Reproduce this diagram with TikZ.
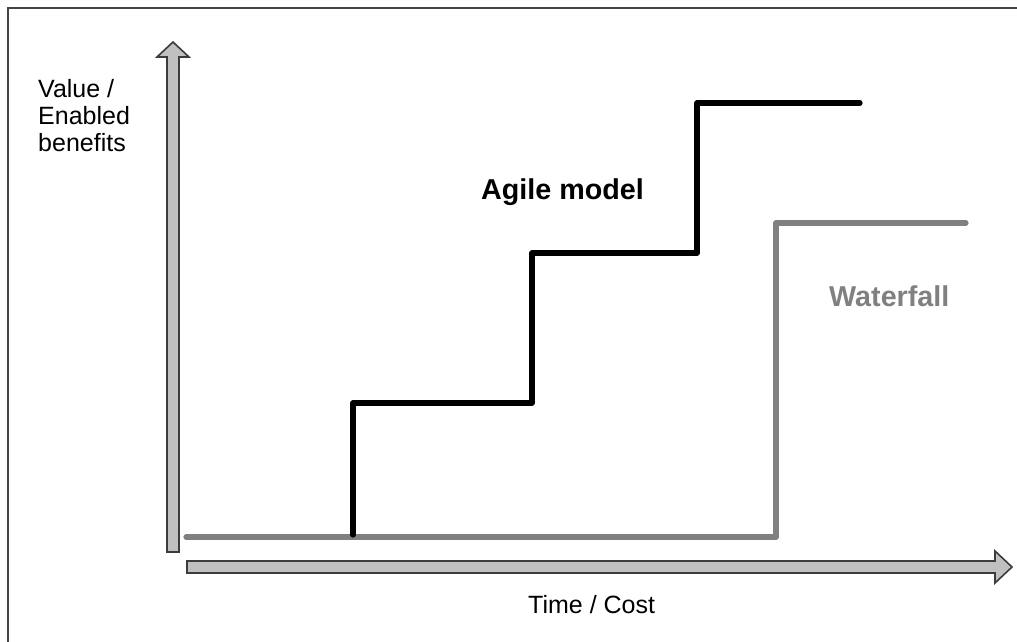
\documentclass[tikz,border=0pt]{standalone}
\usepackage{fontspec}
\setmainfont{Liberation Sans}
\definecolor{arrowfill}{HTML}{C0C0C0}
\definecolor{arrowedge}{HTML}{3C3C3C}
\definecolor{wfgray}{HTML}{808080}
\definecolor{framecol}{HTML}{444444}
\begin{document}
\begin{tikzpicture}[x=1pt,y=-1pt,
  blockarrow/.style={fill=arrowfill,draw=arrowedge,line width=1.6pt,line join=miter},
  agileline/.style={line width=5.2pt,black,line cap=round,line join=round},
  wfline/.style={line width=5.2pt,wfgray,line cap=round,line join=round},
  lbl/.style={font=\fontsize{25}{27}\selectfont,inner sep=0pt},
  boldlbl/.style={font=\fontsize{28.7}{32}\selectfont\bfseries,inner sep=0pt,anchor=base west}
]
\useasboundingbox (0,0) rectangle (1017,642);
% frame (left and top only)
\draw[line width=2pt,framecol] (8,642) -- (8,8) -- (1017,8);
% vertical axis block arrow
\draw[blockarrow] (167,552) -- (167,57) -- (157,57) -- (173,42) -- (189,57) -- (179,57) -- (179,552) -- cycle;
% horizontal axis block arrow
\draw[blockarrow] (187,561) -- (995,561) -- (995,551) -- (1012,567) -- (995,583) -- (995,573) -- (187,573) -- cycle;
% waterfall line
\coordinate (w0) at (186,537);
\coordinate (w1) at (776,537);
\coordinate (w2) at (776,223);
\coordinate (w3) at (966,223);
\draw[wfline] (w0) -- (w1) -- (w2) -- (w3);
% agile line
\coordinate (a0) at (353,535);
\coordinate (a1) at (353,403);
\coordinate (a2) at (532,403);
\coordinate (a3) at (532,253);
\coordinate (a4) at (697,253);
\coordinate (a5) at (697,103);
\coordinate (a6) at (860,103);
\draw[agileline] (a0) -- (a1) -- (a2) -- (a3) -- (a4) -- (a5) -- (a6);
% labels
\node[lbl,align=left,anchor=north west] (ylab) at (38,79) {Value /\\Enabled\\benefits};
\node[lbl,anchor=base west] (xlab) at (528,613) {Time / Cost};
\node[boldlbl] (agile) at (481,199) {Agile model};
\node[boldlbl,text=wfgray] (wf) at (829,306) {Waterfall};
\end{tikzpicture}
\end{document}
